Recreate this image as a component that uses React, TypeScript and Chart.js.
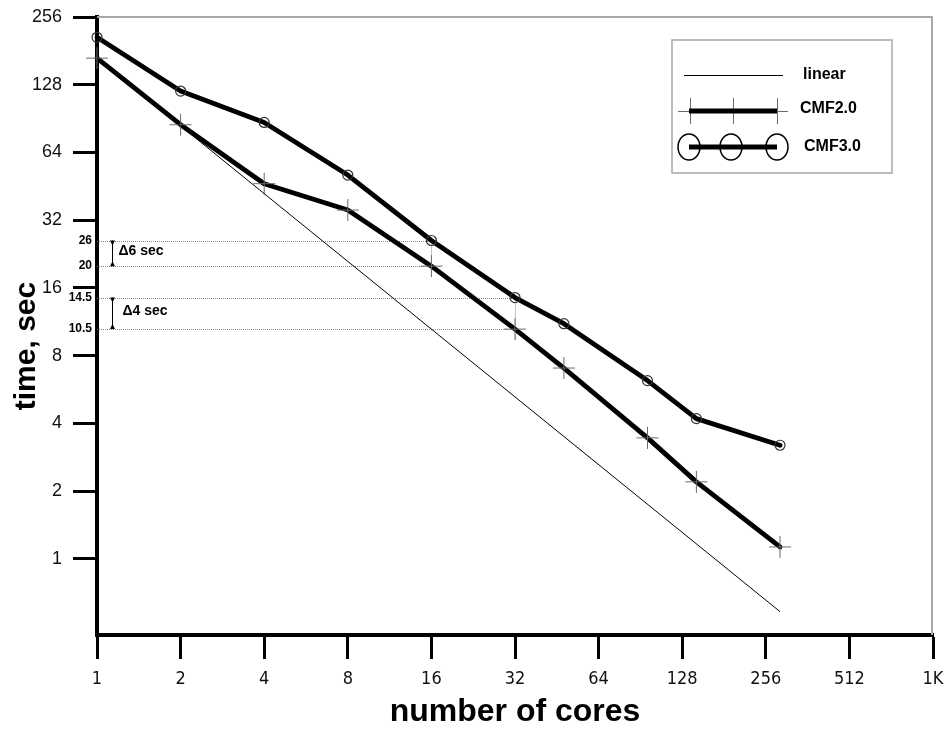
import React, { useEffect, useRef } from "react";
import { Chart, registerables } from "chart.js";

Chart.register(...registerables);

// ---- data ----
const coreCounts = [1, 2, 4, 8, 16, 32, 48, 96, 144, 288];
const cmf20Times = [168, 85, 46.5, 35.5, 20, 10.5, 7.05, 3.45, 2.2, 1.13];
const cmf30Times = [208, 120, 87, 50.8, 26, 14.5, 11.1, 6.2, 4.2, 3.2];
const linearCores = [1, 288];
const linearTimes = [168, 0.583];

const xTickValues = [1, 2, 4, 8, 16, 32, 64, 128, 256, 512, 1024];
const xTickLabels = ["1", "2", "4", "8", "16", "32", "64", "128", "256", "512", "1K"];
const yTickValues = [1, 2, 4, 8, 16, 32, 64, 128, 256];
const yMin = 0.459;
const yMax = 256;

const seriesNames = ["linear", "CMF2.0", "CMF3.0"];
const xTitle = "number of cores";
const yTitle = "time, sec";

// annotation data
const markedTimes = [26, 20, 14.5, 10.5];
const markedCores = [16, 16, 32, 32];
const markedLabels = ["26", "20", "14.5", "10.5"];
const deltaLabels = ["Δ6 sec", "Δ4 sec"];

const MARKER_GRAY = "#6a6a6a";
const FRAME_GRAY = "#a8a8a8";
const SANS = "'Liberation Sans', Arial, sans-serif";

const overlayPlugin = {
  id: "overlay",
  beforeDatasetsDraw(chart: any) {
    const { ctx, scales, chartArea } = chart;
    const xs = scales.x;
    const ys = scales.y;
    ctx.save();
    // frame (top/right)
    ctx.strokeStyle = FRAME_GRAY;
    ctx.lineWidth = 2;
    ctx.beginPath();
    ctx.moveTo(chartArea.left, chartArea.top);
    ctx.lineTo(chartArea.right - 1, chartArea.top);
    ctx.lineTo(chartArea.right - 1, chartArea.bottom);
    ctx.stroke();
    // dotted reference lines
    ctx.strokeStyle = "#8a8a8a";
    ctx.lineWidth = 1;
    ctx.setLineDash([1, 1]);
    for (let i = 0; i < markedTimes.length; i++) {
      const y = Math.round(ys.getPixelForValue(markedTimes[i])) + 0.5;
      const x = xs.getPixelForValue(markedCores[i]);
      ctx.beginPath();
      ctx.moveTo(chartArea.left, y);
      ctx.lineTo(x, y);
      ctx.stroke();
    }
    for (let i = 0; i < markedTimes.length; i += 2) {
      const x = Math.round(xs.getPixelForValue(markedCores[i])) + 0.5;
      const y0 = ys.getPixelForValue(markedTimes[i]);
      const y1 = ys.getPixelForValue(markedTimes[i + 1]);
      ctx.beginPath();
      ctx.moveTo(x, y0);
      ctx.lineTo(x, y1 + 10);
      ctx.stroke();
    }
    ctx.restore();
  },
  afterDraw(chart: any) {
    const { ctx, scales, chartArea } = chart;
    const ys = scales.y;
    ctx.save();
    // y axis title
    ctx.save();
    ctx.translate(27, 346);
    ctx.rotate(-Math.PI / 2);
    ctx.font = `bold 30px ${SANS}`;
    ctx.fillStyle = "#000";
    ctx.textAlign = "center";
    ctx.textBaseline = "middle";
    ctx.fillText(yTitle, 0, 0);
    ctx.restore();

    // annotation labels
    ctx.font = `bold 12px ${SANS}`;
    ctx.fillStyle = "#000";
    ctx.textBaseline = "middle";
    ctx.textAlign = "right";
    for (let i = 0; i < markedTimes.length; i++) {
      const y = ys.getPixelForValue(markedTimes[i]);
      ctx.fillText(markedLabels[i], chartArea.left - 5, y);
    }
    // arrows and delta labels
    const ax = chartArea.left + 15.5;
    ctx.strokeStyle = "#000";
    ctx.lineWidth = 1;
    for (let k = 0; k < 2; k++) {
      const yTop = ys.getPixelForValue(markedTimes[2 * k]);
      const yBot = ys.getPixelForValue(markedTimes[2 * k + 1]);
      ctx.beginPath();
      ctx.moveTo(ax, yTop);
      ctx.lineTo(ax, yBot);
      ctx.stroke();
      ctx.beginPath();
      ctx.moveTo(ax - 2.5, yTop);
      ctx.lineTo(ax, yTop + 5);
      ctx.lineTo(ax + 2.5, yTop);
      ctx.closePath();
      ctx.fill();
      ctx.beginPath();
      ctx.moveTo(ax - 2.5, yBot);
      ctx.lineTo(ax, yBot - 5);
      ctx.lineTo(ax + 2.5, yBot);
      ctx.closePath();
      ctx.fill();
      ctx.font = `bold 14px ${SANS}`;
      ctx.textAlign = "left";
      ctx.fillText(deltaLabels[k], ax + 6 + k * 4, (yTop + yBot) / 2 - 2);
    }

    // legend
    const bx = 672, by = 40, bw = 220, bh = 133;
    ctx.strokeStyle = FRAME_GRAY;
    ctx.lineWidth = 1.5;
    ctx.strokeRect(bx, by, bw, bh);
    const rows = [by + 35, by + 71, by + 107];
    const x0 = 689, x1 = 777, xm = 733;
    // linear
    ctx.strokeStyle = "#000";
    ctx.lineWidth = 1;
    ctx.beginPath();
    ctx.moveTo(684, rows[0] + 0.5);
    ctx.lineTo(783, rows[0] + 0.5);
    ctx.stroke();
    // CMF2.0
    ctx.strokeStyle = MARKER_GRAY;
    ctx.lineWidth = 1;
    ctx.beginPath();
    ctx.moveTo(678, rows[1] + 0.5);
    ctx.lineTo(788, rows[1] + 0.5);
    [x0 + 1, xm, x1].forEach((x) => {
      ctx.moveTo(x + 0.5, rows[1] - 13);
      ctx.lineTo(x + 0.5, rows[1] + 13);
    });
    ctx.stroke();
    ctx.strokeStyle = "#000";
    ctx.lineWidth = 5;
    ctx.beginPath();
    ctx.moveTo(x0, rows[1]);
    ctx.lineTo(x1, rows[1]);
    ctx.stroke();
    // CMF3.0
    ctx.lineWidth = 5;
    ctx.beginPath();
    ctx.moveTo(x0, rows[2]);
    ctx.lineTo(x1, rows[2]);
    ctx.stroke();
    ctx.lineWidth = 1.5;
    [x0, xm - 2, x1].forEach((x) => {
      ctx.beginPath();
      ctx.ellipse(x, rows[2], 11, 13, 0, 0, Math.PI * 2);
      ctx.stroke();
    });
    ctx.font = `bold 16px ${SANS}`;
    ctx.fillStyle = "#000";
    ctx.textAlign = "left";
    ctx.textBaseline = "middle";
    ctx.fillText(seriesNames[0], 803, rows[0]);
    ctx.fillText(seriesNames[1], 800, rows[1] - 2);
    ctx.fillText(seriesNames[2], 804, rows[2]);
    ctx.restore();
  },
};

export default function App() {
  const canvasRef = useRef<HTMLCanvasElement | null>(null);

  useEffect(() => {
    const canvas = canvasRef.current;
    if (!canvas) return;
    const chart = new Chart(canvas, {
      type: "line",
      data: {
        datasets: [
          {
            label: seriesNames[0],
            data: linearCores.map((c, i) => ({ x: c, y: linearTimes[i] })),
            borderColor: "#000",
            borderWidth: 1,
            pointRadius: 0,
            fill: false,
            clip: false as any,
          },
          {
            label: seriesNames[1],
            data: coreCounts.map((c, i) => ({ x: c, y: cmf20Times[i] })),
            borderColor: "#000",
            borderWidth: 4.8,
            borderJoinStyle: "round",
            borderCapStyle: "round",
            pointStyle: "cross",
            pointRadius: 11,
            pointBorderColor: MARKER_GRAY,
            pointBorderWidth: 1,
            pointBackgroundColor: "transparent",
            fill: false,
            clip: false as any,
          },
          {
            label: seriesNames[2],
            data: coreCounts.map((c, i) => ({ x: c, y: cmf30Times[i] })),
            borderColor: "#000",
            borderWidth: 4.8,
            borderJoinStyle: "round",
            borderCapStyle: "round",
            pointStyle: "circle",
            pointRadius: 5,
            pointBorderColor: "#333",
            pointBorderWidth: 1.2,
            pointBackgroundColor: "transparent",
            fill: false,
            clip: false as any,
          },
        ],
      },
      options: {
        animation: false,
        responsive: false,
        maintainAspectRatio: false,
        layout: { padding: { left: 0, right: 16, top: 17, bottom: 0 } },
        plugins: {
          legend: { display: false },
          tooltip: { enabled: false },
        },
        scales: {
          x: {
            type: "logarithmic",
            min: 1,
            max: 1024,
            afterBuildTicks: (axis: any) => {
              axis.ticks = xTickValues.map((v) => ({ value: v }));
            },
            afterFit: (axis: any) => {
              axis.height = 96;
              axis.paddingLeft = 0;
              axis.paddingRight = 0;
            },
            border: { display: true, width: 4, color: "#000" },
            grid: {
              drawOnChartArea: false,
              drawTicks: true,
              tickLength: 24,
              tickWidth: 3,
              tickColor: "#000",
            },
            ticks: {
              autoSkip: false,
              maxRotation: 0,
              minRotation: 0,
              padding: 10,
              color: "#111",
              font: { family: "'Liberation Sans Narrow', 'DejaVu Sans Condensed', Arial, sans-serif", size: 18 },
              callback: (value: any) => {
                const idx = xTickValues.indexOf(Number(value));
                return idx >= 0 ? xTickLabels[idx] : "";
              },
            },
            title: {
              display: true,
              text: xTitle,
              color: "#000",
              font: { family: SANS, size: 32, weight: "bold" },
              padding: { top: 0, bottom: 0 },
            },
          },
          y: {
            type: "logarithmic",
            min: yMin,
            max: yMax,
            afterBuildTicks: (axis: any) => {
              axis.ticks = yTickValues.map((v) => ({ value: v }));
            },
            afterFit: (axis: any) => {
              axis.width = 97;
              axis.paddingTop = 0;
              axis.paddingBottom = 0;
            },
            border: { display: true, width: 4, color: "#000" },
            grid: {
              drawOnChartArea: false,
              drawTicks: true,
              tickLength: 24,
              tickWidth: 3,
              tickColor: "#000",
            },
            ticks: {
              autoSkip: false,
              padding: 11,
              color: "#111",
              font: { family: SANS, size: 18 },
              callback: (value: any) => String(value),
            },
          },
        },
      },
      plugins: [overlayPlugin],
    } as any);
    return () => chart.destroy();
  }, []);

  return (
    <div style={{ position: "fixed", left: 0, top: 0, width: 949, height: 731, background: "#fff" }}>
      <canvas ref={canvasRef} width={949} height={731} style={{ display: "block", width: 949, height: 731 }} />
    </div>
  );
}
